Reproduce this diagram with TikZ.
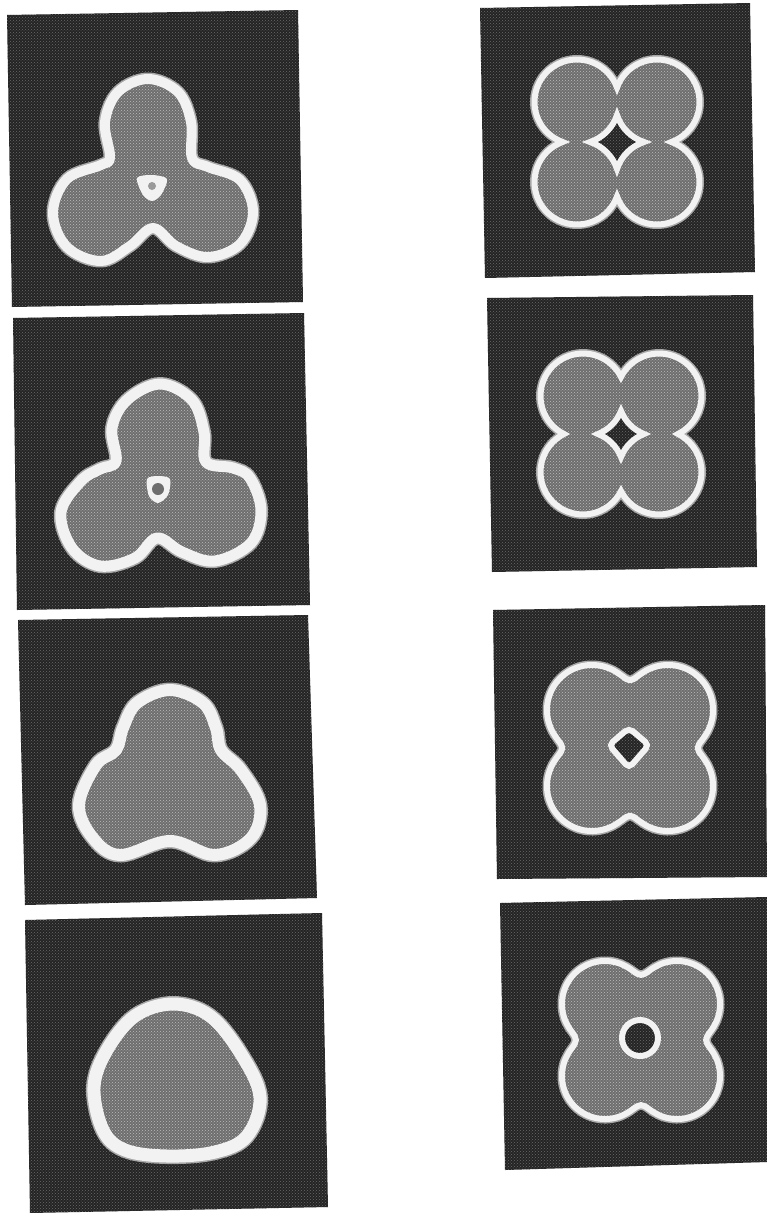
\documentclass[tikz,border=0pt]{standalone}
\usetikzlibrary{calc,patterns}
\definecolor{panelbg}{HTML}{242424}
\definecolor{paneldots}{HTML}{6A6A6A}
\definecolor{shapefill}{HTML}{6E6E6E}
\definecolor{shapedots}{HTML}{BDBDBD}
\definecolor{ringcol}{HTML}{F2F2F2}
\definecolor{ringsoft}{HTML}{A8A8A8}
\tikzset{
  panel/.style={fill=panelbg, postaction={pattern=crosshatch dots, pattern color=paneldots}},
  declare function={
    hp(\pT,\pA,\pB)=\pA*cos(\pT)+\pB*sin(\pT);
    hit(\pT,\pA,\pB,\pR)=max(0.001,hp(\pT,\pA,\pB)+sqrt(max(0,\pR*\pR-\pA*\pA-\pB*\pB+hp(\pT,\pA,\pB)^2)));
    qf(\pT,\pC,\pR,\pK)=100*((hit(\pT,-\pC,-\pC,\pR)/100)^\pK+(hit(\pT,\pC,-\pC,\pR)/100)^\pK+(hit(\pT,-\pC,\pC,\pR)/100)^\pK+(hit(\pT,\pC,\pC,\pR)/100)^\pK)^(1/\pK);
  }
}
% ring-outlined gray shape: #1 ring width, #2 path
\newcommand\ringshape[2]{%
  \draw[draw=ringsoft, line width=#1+3pt, line join=round] #2;
  \fill[shapefill] #2;
  \fill[pattern=crosshatch dots, pattern color=shapedots] #2;
  \draw[draw=ringcol, line width=#1, line join=round] #2;}
% ring-outlined dark hole: #1 ring width, #2 path
\newcommand\ringhole[2]{%
  \fill[panelbg] #2;
  \fill[pattern=crosshatch dots, pattern color=paneldots] #2;
  \draw[draw=ringcol, line width=#1, line join=miter] #2;}
% four-lobed flower with sharp notches: #1 centre, #2 a, #3 notch n, #4 hole corner d, #5 ring width
\newcommand\quadflower[5]{%
  \pgfmathsetmacro\qRo{sqrt(#2*#2+(#3-#2)*(#3-#2))}%
  \pgfmathsetmacro\qb{atan((#3-#2)/#2)}%
  \pgfmathsetmacro\qRh{sqrt(#2*#2+(#2-#4)*(#2-#4))}%
  \pgfmathsetmacro\qg{atan((#2-#4)/#2)}%
  \begin{scope}[shift={#1}]
    \def\qouter{(0,-#3) arc[start angle=180+\qb, end angle=450-\qb, radius=\qRo]
      arc[start angle=270+\qb, end angle=540-\qb, radius=\qRo]
      arc[start angle=\qb, end angle=270-\qb, radius=\qRo]
      arc[start angle=90+\qb, end angle=360-\qb, radius=\qRo] -- cycle}%
    \def\qhole{(0,-#4) arc[start angle=180-\qg, end angle=90+\qg, radius=\qRh]
      arc[start angle=270-\qg, end angle=180+\qg, radius=\qRh]
      arc[start angle=360-\qg, end angle=270+\qg, radius=\qRh]
      arc[start angle=90-\qg, end angle=\qg, radius=\qRh] -- cycle}%
    \draw[draw=ringsoft, line width=#5+3pt, line join=miter] \qouter;
    \fill[shapefill] \qouter;
    \fill[pattern=crosshatch dots, pattern color=shapedots] \qouter;
    \draw[draw=ringcol, line width=#5, line join=miter] \qouter;
    \ringhole{#5}{\qhole}
  \end{scope}}
\begin{document}
\begin{tikzpicture}[x=1pt,y=-1pt]
\useasboundingbox (0,0) rectangle (767,1213);
\fill[white] (0,0) rectangle (767,1213);
% ---------- panels ----------
\fill[panel] (7,15) -- (298,10) -- (303,302) -- (12,307) -- cycle;
\fill[panel] (13,318) -- (304,313) -- (310,605) -- (17,610) -- cycle;
\fill[panel] (18,620) -- (308,615) -- (317,898) -- (25,905) -- cycle;
\fill[panel] (25,920) -- (322,913) -- (328,1207) -- (30,1213) -- cycle;
\fill[panel] (480,8) -- (750,3) -- (755,272) -- (485,278) -- cycle;
\fill[panel] (487,298) -- (753,295) -- (757,567) -- (492,572) -- cycle;
\fill[panel] (493,610) -- (765,605) -- (767,877) -- (497,879) -- cycle;
\fill[panel] (500,903) -- (767,897) -- (767,1162) -- (505,1170) -- cycle;
% ---------- left 1 ----------
\def\shapeLa{plot[smooth cycle, tension=0.6] coordinates {(148,79) (178,92) (191,122) (192,158) (208,167) (240,180) (253,212) (240,244) (208,257) (176,246) (153,228) (130,246) (101,261) (67,247) (53,213) (67,179) (101,165) (110,157) (105,122) (118,92)}}
\ringshape{10}{\shapeLa}
\fill[ringcol] plot[smooth cycle] coordinates {(137,178) (152,175) (167,179) (161,195) (152,201) (143,195)};
\fill[shapefill!70!white] (152,186) circle (4);
% ---------- left 2 ----------
\def\shapeLb{plot[smooth cycle, tension=0.6] coordinates {(160,384) (192,400) (204,432) (206,462) (233,468) (250,478) (261,510) (251,543) (215,561) (182,552) (157,538) (135,558) (100,566) (72,548) (61,512) (81,481) (100,469) (116,461) (112,428) (127,400)}}
\ringshape{11}{\shapeLb}
\fill[ringcol] plot[smooth cycle] coordinates {(147,479) (158,476) (170,479) (168,495) (158,503) (149,496)};
\fill[shapefill] (158,489) circle (6);
% ---------- left 3 ----------
\def\shapeLc{plot[smooth cycle, tension=0.6] coordinates {(170,690) (203,703) (216,728) (221,750) (241,770) (260,805) (251,838) (215,855) (170,841) (120,855) (93,838) (79,805) (96,765) (116,750) (123,728) (137,703)}}
\ringshape{12}{\shapeLc}
% ---------- left 4 ----------
\def\shapeLd{plot[smooth cycle, tension=0.6] coordinates {(173,1004) (210,1016) (241,1054) (260,1097) (247,1136) (215,1152) (167,1156) (125,1150) (103,1130) (94,1087) (107,1050) (135,1016)}}
\ringshape{13}{\shapeLd}
% ---------- right 1 and 2 ----------
\quadflower{(617,142)}{40}{54.4}{27}{6}
\quadflower{(621,434)}{38}{57}{23}{6}
% ---------- right 3 ----------
\begin{scope}[shift={(630,748)}]
\def\shapeRc{plot[smooth cycle, variable=\t, domain=0:357, samples=120] (\t:{qf(\t,38,45,8)})}
\ringshape{6}{\shapeRc}
\def\holeRc{[rounded corners=5] (-1,-20) -- (19,-3) -- (-1,20) -- (-21,-3) -- cycle}
\ringhole{6}{\holeRc}
\end{scope}
% ---------- right 4 ----------
\begin{scope}[shift={(641,1040)}]
\def\shapeRd{plot[smooth cycle, variable=\t, domain=0:357, samples=120] (\t:{qf(\t,36,43,8)})}
\ringshape{6}{\shapeRd}
\ringhole{6}{(-1,-2) circle (18)}
\end{scope}
\end{tikzpicture}
\end{document}
